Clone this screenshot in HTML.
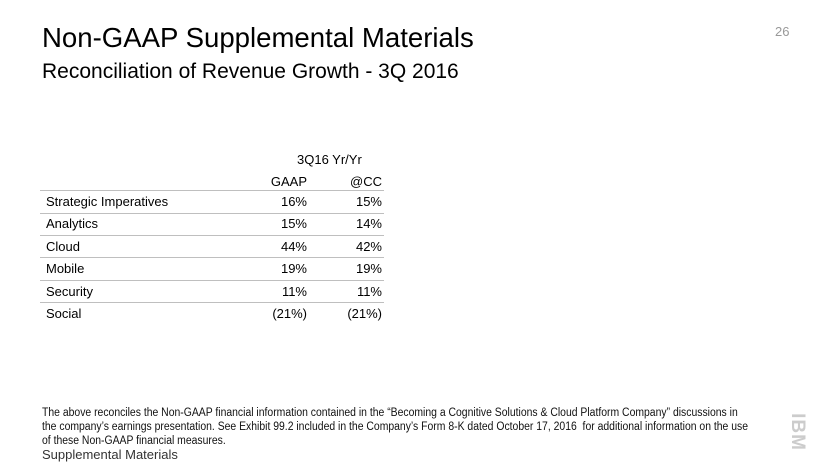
<!DOCTYPE html>
<html><head><meta charset="utf-8"><style>
body{margin:0;width:830px;height:467px;background:#fff;position:relative;overflow:hidden;font-family:"Liberation Sans",sans-serif;color:#000}
.a{position:absolute;white-space:nowrap}
.row{position:absolute;left:40px;width:344px;height:22px;font-size:13px;line-height:22px}
.row .l{position:absolute;left:6px}
.row .g{position:absolute;right:77px}
.row .c{position:absolute;right:2px}
.ln{position:absolute;left:40px;width:344px;height:0;border-top:1.5px solid #bfbfbf}
.fn{font-family:"Liberation Sans",sans-serif;font-size:11.5px;color:#111;transform:scaleX(0.905);transform-origin:0 0}
</style></head><body>
<div class="a" style="left:42px;top:22px;font-size:28px;transform:scaleX(0.985);transform-origin:0 0">Non-GAAP Supplemental Materials</div>
<div class="a" style="left:42px;top:60px;font-size:21px">Reconciliation of Revenue Growth - 3Q 2016</div>
<div class="a" style="left:775px;top:24px;font-size:13px;color:#999">26</div>

<div>
<div class="a" style="left:297px;top:152px;font-size:13px">3Q16 Yr/Yr</div>
<div class="a" style="left:270px;top:174px;font-size:13px;width:37px;text-align:right">GAAP</div>
<div class="a" style="left:340px;top:174px;font-size:13px;width:42px;text-align:right">@CC</div>
<div class="ln" style="top:190px"></div>
<div id="rows"></div>
</div>

<div class="a fn" style="left:42px;top:406px;line-height:14px">The above reconciles the Non-GAAP financial information contained in the “Becoming a Cognitive Solutions &amp; Cloud Platform Company” discussions in<br>the company’s earnings presentation. See Exhibit 99.2 included in the Company’s Form 8-K dated October 17, 2016&nbsp; for additional information on the use<br>of these Non-GAAP financial measures.</div>
<div class="a" style="left:42px;top:447px;font-size:13px;color:#333">Supplemental Materials</div>
<div class="a" style="left:775px;top:421px;width:44px;text-align:center;font-size:19px;font-weight:bold;color:#ccc;transform:rotate(90deg);letter-spacing:1px">IBM</div>

<script>
const labels=["Strategic Imperatives","Analytics","Cloud","Mobile","Security","Social"];
const gaap=["16%","15%","44%","19%","11%","(21%)"];
const cc=["15%","14%","42%","19%","11%","(21%)"];
const host=document.getElementById('rows');
labels.forEach((t,i)=>{
  const top=191+i*22.4;
  const r=document.createElement('div');
  r.className='row';r.style.top=top+'px';
  
  
  r.innerHTML='<span class="l">'+t+'</span><span class="g">'+gaap[i]+'</span><span class="c">'+cc[i]+'</span>';
  host.appendChild(r);
  if(i<labels.length-1){
    const l=document.createElement('div');
    l.className='ln';l.style.top=(top+21.5)+'px';
    
    
    host.appendChild(l);
  }
});
</script>
</body></html>
